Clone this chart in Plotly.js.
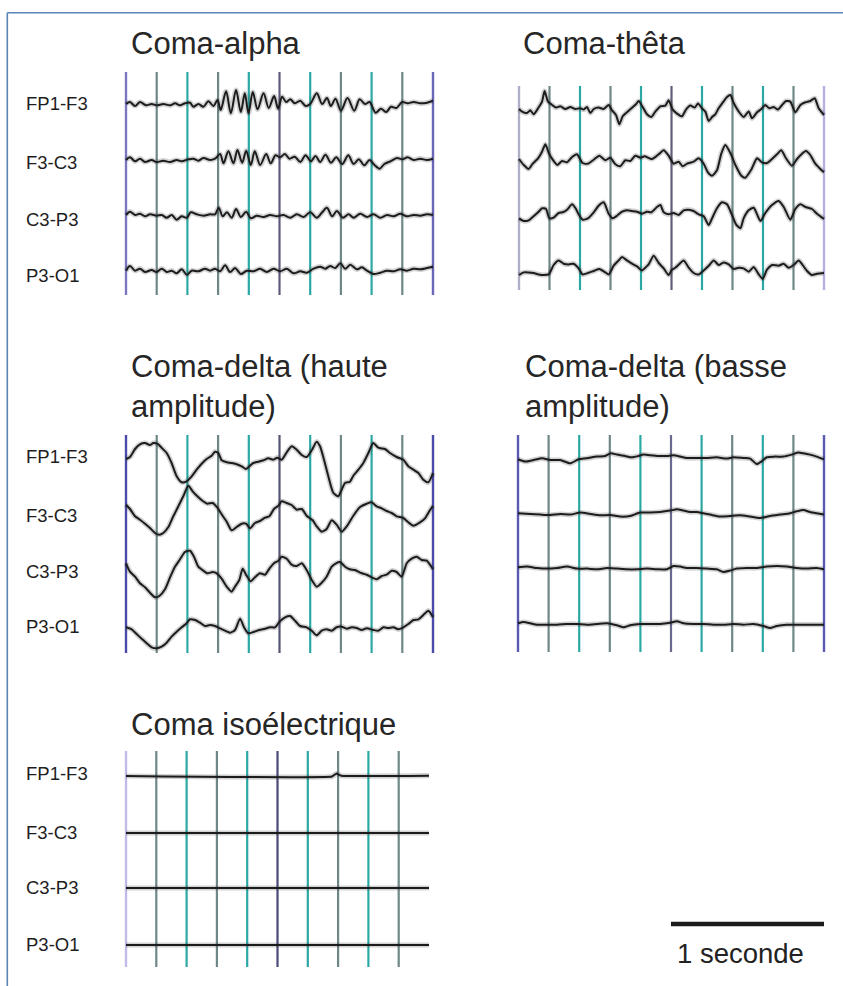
<!DOCTYPE html>
<html><head><meta charset="utf-8">
<script src="https://cdn.plot.ly/plotly-3.0.1.min.js"></script>
<style>html,body{margin:0;padding:0;background:#fff}#chart{width:843px;height:986px}</style>
</head><body><div id="chart"></div>
<script>
// ---------- DATA (time in s, amplitude in display units) ----------
const channelLabels = ['FP1-F3','F3-C3','C3-P3','P3-O1'];
const gridTimes = [0,0.2,0.4,0.6,0.8,1.0,1.2,1.4,1.6,1.8,2.0];
const gridKinds = ['edge','gray','teal','gray','teal','mid','teal','gray','teal','gray','edge'];
const scaleBarSeconds = 1;
const scaleBarLabel = '1 seconde';

// Coma-alpha
const alphaFp1T = [0,.026,.059,.091,.13,.167,.2,.243,.287,.32,.352,.385,.417,.439,.472,.504,.537,.57,.596,.617,.652,.683,.717,.748,.774,.798,.826,.857,.896,.93,.965,.991,1.017,1.043,1.07,1.1,1.135,1.17,1.2,1.243,1.278,1.309,1.335,1.365,1.4,1.443,1.487,1.522,1.557,1.587,1.626,1.661,1.696,1.726,1.761,1.8,1.835,1.874,1.917,1.961,2];
const alphaFp1V = [0,2,-2,2,-1.3,0,-1.3,0,-1.3,.7,-1.3,.7,1.3,-2.7,0,-2.7,2.7,-2,4,-6,12.7,-9.3,14,-8,10.7,-9.3,12,-5.3,10.7,-4,8,-4.7,7.3,2,4.7,.7,3.3,-2,0,10.7,0,6,-2,5.3,-6.7,6,-6.7,4.7,0,2,-8.7,-4.7,-8,-2.7,-4,2,.7,2,.7,1.3,3.3];
const alphaF3T = [0,.026,.059,.091,.124,.167,.2,.243,.287,.33,.363,.407,.439,.472,.504,.548,.58,.613,.635,.667,.7,.726,.757,.783,.813,.839,.874,.913,.943,.974,1.004,1.035,1.065,1.1,1.135,1.17,1.204,1.235,1.265,1.3,1.335,1.37,1.409,1.448,1.483,1.517,1.552,1.587,1.617,1.652,1.683,1.722,1.765,1.8,1.835,1.874,1.917,1.961,2];
const alphaF3V = [0,2.7,-1.3,1.3,-2,0,-2,-.7,-2,0,-1.3,.7,1.3,-.7,2,0,1.3,6,-3.3,8.7,-3.3,10,-2.7,9.3,-5,8.7,-5,6,-3.3,4.7,2.7,6,1.3,3.3,-2,4.7,-1.3,4,-2,5.3,-2.7,2.7,-4,4.7,-4,.7,-5.3,0,-4.7,-8.7,-4,-1.3,2,.7,2.7,0,1.3,0,1.3];
const alphaC3T = [0,.026,.059,.091,.124,.157,.2,.233,.265,.298,.33,.363,.396,.422,.461,.504,.548,.58,.604,.63,.657,.689,.717,.748,.783,.813,.852,.896,.939,.983,1.026,1.07,1.113,1.157,1.2,1.243,1.278,1.309,1.343,1.374,1.413,1.45,1.483,1.526,1.57,1.613,1.657,1.7,1.743,1.787,1.83,1.874,1.917,1.961,2];
const alphaC3V = [0,3.3,0,1.3,-1.3,.7,-.7,0,-2.7,0,-4.7,-1.3,-2.7,2.7,.7,-.7,.7,.7,7.3,-1.3,2.7,-2.7,6,-2,3.3,-3.3,-.7,-2,0,-1.3,0,-2.7,.7,-2,2.7,-2.7,2.7,7.3,-1.3,4,-2.7,.7,-2.7,1.3,-2,.7,-2.7,0,-1.3,1.3,-1.3,0,-.7,.7,0];
const alphaP3T = [0,.026,.059,.091,.124,.167,.2,.233,.265,.298,.33,.363,.396,.428,.472,.515,.548,.58,.613,.646,.678,.711,.748,.787,.83,.874,.917,.961,1.004,1.048,1.091,1.135,1.178,1.222,1.265,1.298,1.33,1.363,1.396,1.428,1.461,1.504,1.537,1.57,1.613,1.657,1.7,1.743,1.787,1.83,1.874,1.917,1.961,2];
const alphaP3V = [-.7,4,-.7,1.3,-2,0,-2,1.3,-2,-.7,-3.3,.7,-4.7,-.7,-1.3,1.3,-.7,1.3,-1.3,4.7,-2,2,-4,-.7,-1.3,1.3,-2,1.3,-1.3,1.3,-3.3,-1.3,-2.7,1.3,3.3,1.3,4,2,6.7,1.3,5.3,.7,2.7,-.7,-4,-2.7,-.7,-1.3,.7,-.7,1.3,.7,2,3.3];

// Coma-thêta
const thetaFp1T = [0,.02,.052,.074,.096,.125,.151,.168,.19,.212,.243,.271,.304,.337,.369,.402,.424,.446,.468,.49,.522,.555,.588,.61,.636,.658,.68,.702,.737,.767,.785,.811,.839,.868,.894,.927,.96,.981,1.008,1.036,1.069,1.095,1.124,1.152,1.174,1.2,1.222,1.244,1.266,1.287,1.309,1.331,1.364,1.386,1.408,1.441,1.473,1.506,1.528,1.561,1.589,1.615,1.641,1.67,1.698,1.725,1.751,1.779,1.812,1.845,1.878,1.91,1.939,1.965,2];
const thetaFp1V = [-.7,-3.3,-4.7,-2,-6,0,6.7,17.3,6.7,4,.7,2,-.7,1.3,-.7,0,-1.3,1.3,-4.7,-.7,.7,-.7,3.3,-2,-6.7,-16,-8,-4.7,0,4,7.3,1.3,-6,-8.7,-3.3,2,2.7,8,-1.3,-5.3,-8,-1.3,2.7,.7,4.7,0,-3.3,-12.7,-8.7,-6,0,4.7,11.3,13.3,5.3,-3.3,-8.7,-3.3,-10,-4,-.7,3.3,0,1.3,-1.3,3.3,7.3,6.7,-4,3.3,6,7.3,10,0,-6.7];
const thetaF3T = [0,.031,.063,.09,.125,.151,.173,.195,.221,.251,.282,.315,.348,.38,.417,.452,.49,.527,.566,.599,.632,.664,.697,.73,.763,.796,.824,.872,.916,.949,.981,1.014,1.047,1.073,1.102,1.145,1.178,1.211,1.239,1.266,1.298,1.327,1.353,1.386,1.419,1.458,1.484,1.523,1.561,1.593,1.626,1.659,1.692,1.72,1.751,1.79,1.823,1.856,1.882,1.91,1.943,1.976,2];
const thetaF3V = [1,-5,-9,-3.7,1.7,8.3,15.7,7,.3,-5,-1,-2.3,3,5.7,-3,-3.7,.3,4.3,-.3,2.3,-4.3,-6.3,-.3,-1,4.3,2.3,3.7,1,5.7,9.7,4.3,-3.7,-1.7,-6.3,-3.7,-1.7,1.7,-3.7,-12.3,-15.7,-10.3,6.7,15,7,-5,-15.7,-17.7,-9.7,1.7,-2.3,-3,1,5.7,9.7,1.7,-5.7,1,6.3,9,5,-3.7,-9,-12.3];
const thetaC3T = [0,.031,.063,.09,.125,.151,.177,.199,.227,.26,.286,.315,.348,.374,.391,.417,.452,.49,.522,.555,.588,.614,.643,.676,.708,.741,.774,.807,.839,.868,.905,.927,.949,.981,1.014,1.047,1.08,1.113,1.145,1.178,1.211,1.244,1.266,1.298,1.331,1.364,1.397,1.423,1.452,1.473,1.506,1.539,1.583,1.615,1.659,1.703,1.736,1.779,1.812,1.845,1.878,1.921,1.954,2];
const thetaC3V = [-3.3,-6,-5.3,-2,2.7,6.7,6,-3.3,-2.7,2,2.7,5.3,10.7,6,.7,-4.7,-3.3,2.7,9.3,12.7,1.3,-3.3,-.7,3.3,4.7,4,3.3,1.3,3.3,2.7,8,10,2.7,.7,2,0,4.7,5.3,4,.7,-1.3,-10,-3.3,6.7,12.7,10.7,0,-9.3,-13.3,-3.3,4.7,7.3,-6,2,10,14,8,-4.7,6,10.7,8,6,1.3,-4];
const thetaP3T = [0,.031,.063,.096,.129,.162,.195,.227,.26,.293,.326,.358,.391,.417,.452,.49,.527,.566,.588,.621,.654,.676,.708,.741,.774,.807,.828,.85,.883,.916,.949,.981,1.003,1.025,1.058,1.08,1.113,1.145,1.178,1.211,1.244,1.277,1.31,1.342,1.375,1.408,1.441,1.473,1.506,1.539,1.572,1.598,1.626,1.659,1.703,1.736,1.768,1.801,1.834,1.86,1.889,1.921,1.954,2];
const thetaP3V = [-3.3,-.7,-.7,-1.3,-2.7,-3.3,-2.7,6.7,11.3,8,7.3,8,3.3,-2.7,-1.3,.7,2.7,-.7,-2.7,6,11.3,14.7,11.3,8,5.3,1.3,4,7.3,16,8.7,3.3,-3.3,2,4,8.7,11.3,4,-1.3,-2.7,1.3,6,11.3,6.7,9.3,7.3,2.7,4,3.3,0,4.7,-2.7,-7.3,2,6.7,6,8,4,6.7,11.3,6.7,.7,-3.3,-2,-1.3];

// Coma-delta (haute amplitude)
const deltaHFp1T = [0,.026,.059,.091,.124,.156,.178,.204,.232,.265,.297,.33,.363,.395,.428,.46,.493,.525,.558,.58,.601,.623,.656,.688,.721,.753,.782,.808,.829,.862,.895,.927,.96,.986,1.014,1.047,1.079,1.112,1.145,1.177,1.21,1.242,1.264,1.29,1.318,1.351,1.383,1.405,1.427,1.459,1.481,1.514,1.546,1.579,1.611,1.644,1.687,1.72,1.763,1.807,1.839,1.872,1.905,1.937,1.97,2];
const deltaHFp1V = [-4,-2,6,10.7,12,10,12,11.3,7.3,2,-8,-21.3,-27.3,-26.3,-21.3,-14.7,-8.7,-4,-.7,3.3,2,-5.3,-7.3,-8,-9.3,-11.3,-14,-10.7,-8,-6.7,-5.3,-3.3,-4.7,-2.7,-4.7,2.7,8.7,5.3,0,-2,4.7,13.3,8.7,-4.7,-21.3,-38,-41.3,-34.7,-28,-26.7,-20.7,-14.7,-8,2,12,7.3,6,2,-2,-4.7,-11.3,-14.7,-18,-24.7,-27.3,-18];
const deltaHF3T = [0,.026,.059,.091,.124,.156,.189,.217,.243,.276,.308,.341,.373,.406,.434,.465,.5,.53,.565,.595,.623,.656,.688,.721,.753,.782,.808,.84,.873,.906,.934,.964,.993,1.014,1.047,1.079,1.112,1.145,1.177,1.216,1.242,1.275,1.307,1.34,1.372,1.405,1.438,1.481,1.525,1.568,1.6,1.633,1.666,1.698,1.731,1.763,1.807,1.839,1.872,1.915,1.948,1.98,2];
const deltaHF3V = [9.3,5,-2.3,-5.7,-9.7,-14,-19,-20.7,-19,-13,-2.3,7.7,17.7,28.3,22.7,17.7,13,10.3,11,6.3,-.3,-7.7,-16.3,-13,-9.7,-9.7,-14.3,-9,-7,-3.7,-2.3,5,8.3,12.7,11,9,4.3,5,-1.7,-6.3,-12.3,-17.7,-15,-6.3,-10.7,-17.7,-12.3,-1.7,7,10.3,11.7,7.7,5.7,3,1,-2.3,-4,-8.3,-11.7,-8.3,-4.3,3.7,8.3];
const deltaHC3T = [0,.026,.059,.091,.124,.156,.189,.217,.254,.287,.319,.352,.384,.417,.443,.471,.504,.53,.565,.591,.623,.656,.688,.71,.738,.76,.782,.812,.84,.873,.906,.934,.964,.993,1.014,1.047,1.079,1.112,1.145,1.177,1.21,1.242,1.275,1.307,1.34,1.368,1.394,1.427,1.459,1.492,1.525,1.568,1.6,1.633,1.666,1.698,1.731,1.763,1.796,1.829,1.861,1.894,1.926,1.959,2];
const deltaHC3V = [7.7,-.7,-5.7,-12.3,-16.3,-21.7,-26.3,-25,-18.3,-6.3,4.3,11.7,19,20.3,14.3,4.3,.3,-2.3,-1,-2.3,-7.7,-15.7,-20.7,-15.7,-9,2.3,-3.7,-10.3,-6.3,-2.3,-3.7,2.3,7.7,10.3,14.3,12.3,6.3,5,7.7,1,-9,-15.7,-11.7,-5.7,4.3,7.7,9,4.3,1.7,1,-1.7,-3.7,-6.3,-8.3,-5,-3.7,.3,-1,-5.7,7.7,12.3,14.3,11,10.3,1.7];
const deltaHP3T = [0,.037,.069,.102,.135,.167,.2,.232,.265,.297,.33,.363,.395,.417,.45,.482,.515,.547,.58,.612,.645,.678,.71,.743,.769,.797,.83,.869,.906,.938,.971,1.003,1.036,1.069,1.101,1.134,1.177,1.21,1.242,1.275,1.307,1.34,1.372,1.405,1.438,1.47,1.503,1.536,1.568,1.612,1.644,1.677,1.709,1.742,1.774,1.807,1.839,1.872,1.905,1.937,1.97,2];
const deltaHP3V = [-.3,-2.3,-7,-11.7,-16.3,-20.3,-21.3,-19.7,-15.7,-9.7,-4.7,-.3,3.7,7.7,7,4.3,1,2,1,-1.3,-3.7,-5.7,-3,8.3,-.3,-6.3,-5,-3,-1.7,-.3,-.3,5.7,9.7,11,6.3,1,-.3,-3.7,-8.3,-3.7,-2.3,-3.7,-.3,.3,-1.7,-.3,-1,-3,-1.3,-3,-3.7,-.3,-1,-.3,-2.3,-.3,3,7,7.7,12,16.3,9.7];

// Coma-delta (basse amplitude)
const deltaLFp1T = [0,.048,.102,.157,.211,.276,.342,.396,.45,.516,.57,.607,.646,.7,.744,.787,.82,.864,.918,.973,1.016,1.06,1.103,1.169,1.234,1.299,1.364,1.408,1.473,1.517,1.56,1.593,1.626,1.68,1.734,1.789,1.832,1.865,1.908,1.952,2];
const deltaLFp1V = [-1,-3.3,-1.7,0,-1.7,-1.7,-5,-1,0,1.7,2.3,5,3.7,2.3,1,2.3,3.7,3,2.3,2.3,3,1.7,.3,.3,.3,1,-.3,1,.3,-.3,-5.7,-3,1,1.7,1.7,3.7,5.7,5,3.7,1.7,-1];
const deltaLF3T = [0,.081,.146,.211,.276,.342,.407,.472,.538,.603,.668,.733,.799,.864,.929,.995,1.038,1.082,1.125,1.169,1.212,1.256,1.321,1.386,1.452,1.517,1.582,1.647,1.713,1.778,1.822,1.865,1.908,1.952,2];
const deltaLF3V = [0,-.7,-1.3,-1.7,-.7,-1.3,.7,-.7,-2,-1.7,-3.3,-2.7,.7,.7,1.3,2.7,4,2.7,1.3,1.3,0,-1.3,-3.3,-2.7,-2,-3.3,-4.7,-2.7,-1.3,0,2,3.3,1.3,0,-1.3];
const deltaLC3T = [0,.059,.124,.189,.255,.32,.385,.45,.516,.581,.646,.712,.777,.842,.908,.973,1.016,1.06,1.103,1.169,1.234,1.299,1.343,1.386,1.43,1.495,1.56,1.626,1.691,1.756,1.821,1.887,1.952,2];
const deltaLC3V = [1,1.7,.3,-.3,.3,1.7,-.3,-.3,-1,.3,-.3,-1,-1,-.3,-1,-1,2.3,1.7,.3,.3,-.3,-1,-3.7,-2.3,-.3,.3,.3,1.7,2.3,1.7,.3,-.3,.3,-1];
const deltaLP3T = [0,.037,.081,.124,.189,.255,.32,.385,.45,.516,.581,.646,.69,.733,.799,.864,.929,.995,1.038,1.082,1.147,1.212,1.277,1.343,1.408,1.473,1.538,1.604,1.647,1.691,1.756,1.821,1.887,1.952,2];
const deltaLP3V = [.7,2,.7,-.7,-.7,-.7,0,0,-.7,0,.7,-1.3,-3.3,-1.3,0,0,0,1.3,2.7,.7,0,0,-.7,-.7,0,-.7,0,-2,-4,-2,-.7,-.7,-.7,-.7,-.7];

// Coma isoélectrique
const isoFp1T = [0,1.36,1.39,1.42,2];
const isoFp1V = [0,-0.5,2.5,0.3,0.3];
const isoF3T = [0,2], isoF3V = [0,0];
const isoC3T = [0,2], isoC3V = [0,0];
const isoP3T = [0,2], isoP3V = [0,0];

// ---------- LAYOUT CONFIG (pixel geometry of the figure) ----------
const W = 843, H = 986;
const FONT = 'Liberation Sans, Arial, Helvetica, sans-serif';
const gridColors = {gray:'#6e8787', teal:'#2ba8a3'};
const panels = [
  {title:['Coma-alpha'], tx:129, ty:[43.5], px:[126,433], py:[72,295], base:[104,160,215,270],
   labelY:[103.3,162,219,275], edge:['#7a78c2','#6a66b8'], mid:'#5c5a7c', skip:[], smooth:0.9,
   data:[[alphaFp1T,alphaFp1V],[alphaF3T,alphaF3V],[alphaC3T,alphaC3V],[alphaP3T,alphaP3V]]},
  {title:['Coma-thêta'], tx:521, ty:[43.5], px:[519,824], py:[86,290], base:[108.3,160,215,271.7],
   labelY:null, edge:['#aeaec6','#b6b2e0'], mid:'#625e7a', skip:[], smooth:0.6,
   data:[[thetaFp1T,thetaFp1V],[thetaF3T,thetaF3V],[thetaC3T,thetaC3V],[thetaP3T,thetaP3V]]},
  {title:['Coma-delta (haute','amplitude)'], tx:129, ty:[366.5,406], px:[126,433], py:[435,653], base:[455,514,571,627],
   labelY:[456,515,571,626], edge:['#4a4aaa','#4a4aaa'], mid:'#545474', skip:[], smooth:0.6,
   data:[[deltaHFp1T,deltaHFp1V],[deltaHF3T,deltaHF3V],[deltaHC3T,deltaHC3V],[deltaHP3T,deltaHP3V]]},
  {title:['Coma-delta (basse','amplitude)'], tx:523, ty:[366.5,406], px:[518,824], py:[435,652], base:[458.3,513.3,568.3,624],
   labelY:null, edge:['#5a5ab2','#5a5ab2'], mid:'#6a6a90', skip:[], smooth:0.6,
   data:[[deltaLFp1T,deltaLFp1V],[deltaLF3T,deltaLF3V],[deltaLC3T,deltaLC3V],[deltaLP3T,deltaLP3V]]},
  {title:['Coma isoélectrique'], tx:129, ty:[724], px:[126,429], py:[751,967], base:[776,833,888,945],
   labelY:[773.5,832,887,944], edge:['#c2bbe8',null], mid:'#4a4a7a', skip:[10], smooth:0.3,
   data:[[isoFp1T,isoFp1V],[isoF3T,isoF3V],[isoC3T,isoC3V],[isoP3T,isoP3V]]}
];

const T0 = gridTimes[0], T1 = gridTimes[gridTimes.length-1];
const PAD = 0.02;
const traces = [], shapes = [], annotations = [];
const layout = {
  width:W, height:H, margin:{l:0,r:0,t:0,b:0}, showlegend:false,
  paper_bgcolor:'#ffffff', plot_bgcolor:'rgba(0,0,0,0)',
  font:{family:FONT, color:'#1e1e1e'}
};

panels.forEach((p, i) => {
  const n = i + 1, sfx = n === 1 ? '' : String(n);
  const pps = (p.px[1] - p.px[0]) / (T1 - T0);
  const d0 = p.px[0] - PAD * pps, d1 = p.px[1] + PAD * pps;
  const hgt = p.py[1] - p.py[0];
  layout['xaxis' + sfx] = {domain:[d0 / W, d1 / W], range:[T0 - PAD, T1 + PAD], visible:false, fixedrange:true, anchor:'y' + sfx};
  layout['yaxis' + sfx] = {domain:[1 - p.py[1] / H, 1 - p.py[0] / H], range:[-hgt, 0], visible:false, fixedrange:true, anchor:'x' + sfx};

  gridTimes.forEach((t, k) => {
    if (p.skip.includes(k)) return;
    const kind = gridKinds[k];
    let color, width = 2.2;
    if (kind === 'edge') { color = k === 0 ? p.edge[0] : p.edge[1]; if (!color) return; width = 2.4; }
    else if (kind === 'mid') color = p.mid;
    else color = gridColors[kind];
    shapes.push({type:'line', xref:'x' + sfx, yref:'y' + sfx + ' domain', x0:t, x1:t, y0:0, y1:1,
      line:{color:color, width:width}, layer:'below'});
  });

  p.data.forEach((pair, c) => {
    const tArr = pair[0], vArr = pair[1];
    const m = Math.min(tArr.length, vArr.length);
    const off = -(p.base[c] - p.py[0]);
    const xs = tArr.slice(0, m), ys = vArr.slice(0, m).map(v => off + v);
    const shape = {shape:'spline', smoothing:p.smooth};
    traces.push({type:'scatter', mode:'lines', x:xs, y:ys, xaxis:'x' + sfx, yaxis:'y' + sfx,
      line:Object.assign({color:'rgba(50,50,50,0.22)', width:5.2}, shape), hoverinfo:'skip'});
    traces.push({type:'scatter', mode:'lines', x:xs, y:ys, xaxis:'x' + sfx, yaxis:'y' + sfx,
      line:Object.assign({color:'#1c1c1c', width:2.0}, shape), hoverinfo:'skip'});
  });

  p.title.forEach((line, j) => {
    annotations.push({xref:'paper', yref:'paper', x:p.tx / W, y:1 - p.ty[j] / H, xanchor:'left', yanchor:'middle',
      text:line, showarrow:false, font:{family:FONT, size:31, color:'#262626'}});
  });
  if (p.labelY) {
    channelLabels.forEach((lab, c) => {
      annotations.push({xref:'paper', yref:'paper', x:23.5 / W, y:1 - p.labelY[c] / H, xanchor:'left', yanchor:'middle',
        text:lab, showarrow:false, font:{family:FONT, size:18.5, color:'#1e1e1e'}});
    });
  }
});

// frame
shapes.push({type:'line', xref:'paper', yref:'paper', x0:7.3 / W, x1:1, y0:1 - 12.7 / H, y1:1 - 12.7 / H, line:{color:'#5b84b8', width:1.6}});
shapes.push({type:'line', xref:'paper', yref:'paper', x0:7.3 / W, x1:7.3 / W, y0:0, y1:1 - 12.7 / H, line:{color:'#5b84b8', width:1.6}});

// scale bar on the time axis of panel 4
shapes.push({type:'line', xref:'x4', yref:'paper', x0:T1 - scaleBarSeconds, x1:T1, y0:1 - 924 / H, y1:1 - 924 / H,
  line:{color:'#1c1c1c', width:4.3}});
annotations.push({xref:'x4', yref:'paper', x:T1 - scaleBarSeconds, xshift:4, y:1 - 953 / H, xanchor:'left', yanchor:'middle',
  text:scaleBarLabel, showarrow:false, font:{family:FONT, size:27.5, color:'#222222'}});

layout.shapes = shapes;
layout.annotations = annotations;
Plotly.newPlot('chart', traces, layout, {staticPlot:true, displayModeBar:false});
</script></body></html>
